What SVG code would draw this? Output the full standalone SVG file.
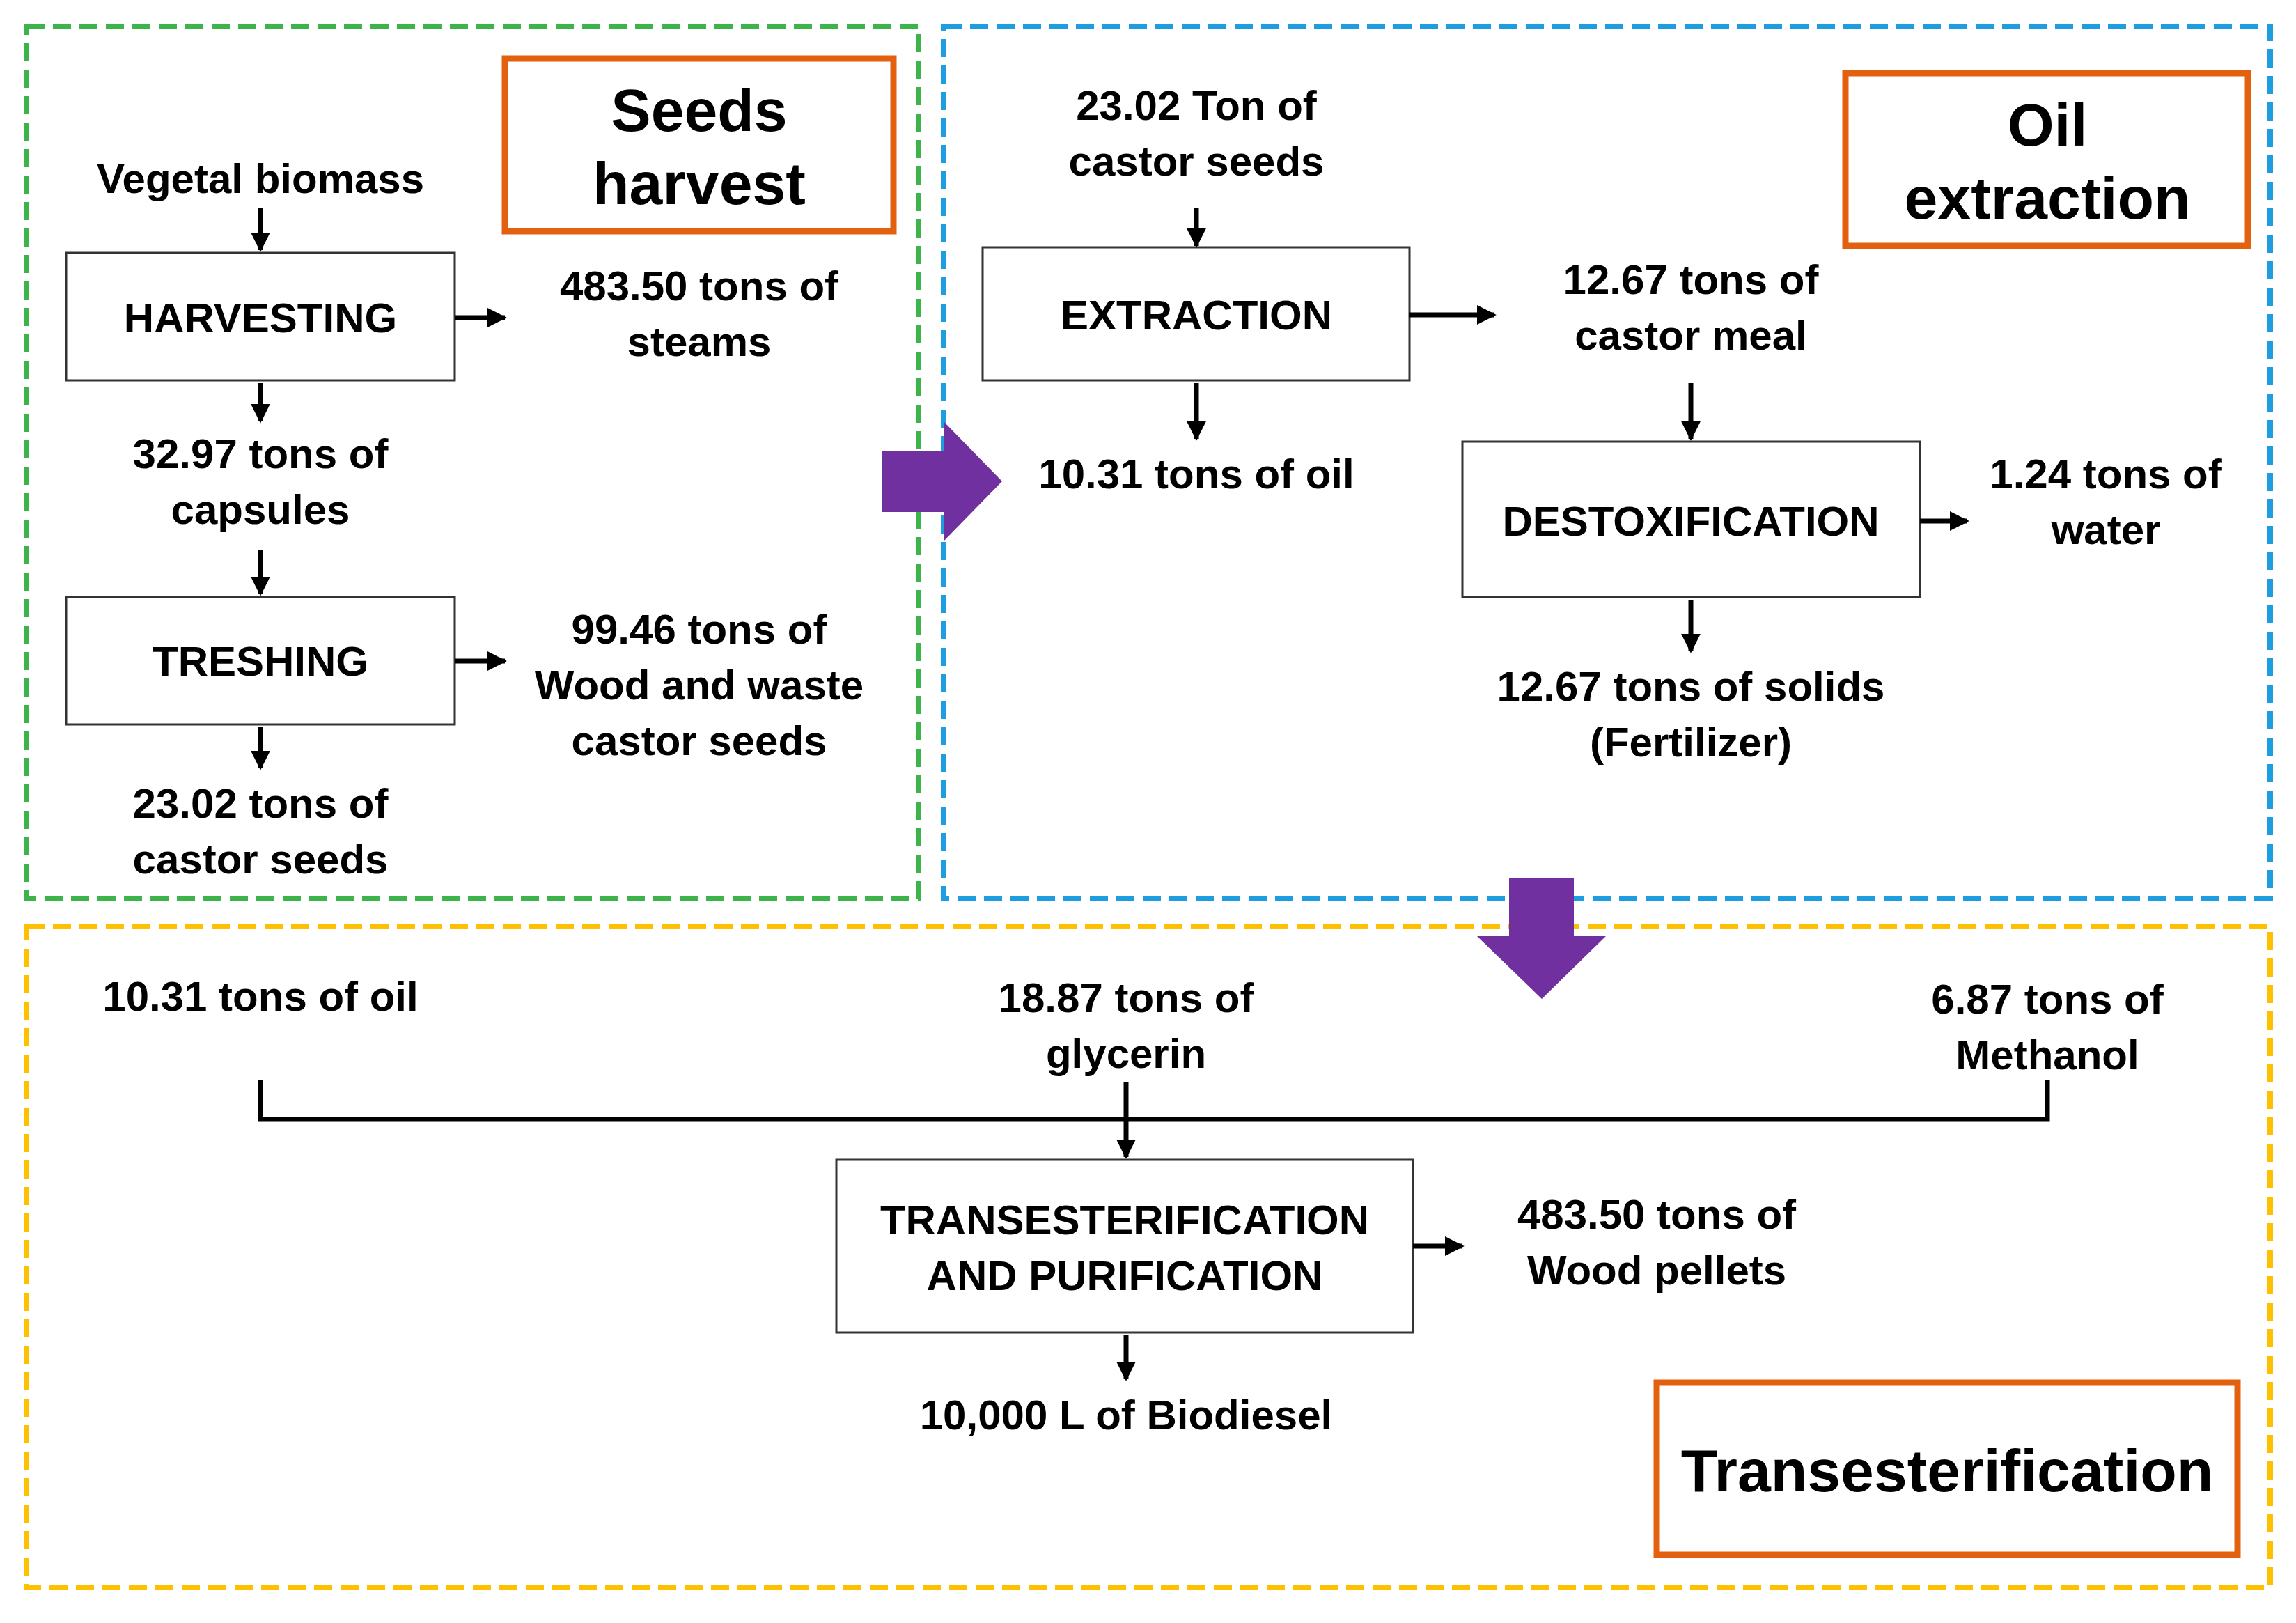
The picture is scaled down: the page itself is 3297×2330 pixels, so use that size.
<svg xmlns="http://www.w3.org/2000/svg" width="3297" height="2330" viewBox="0 0 3297 2330">
<style>
.t{font-family:"Liberation Sans",Arial,sans-serif;font-weight:bold;font-size:60px;text-anchor:middle;dominant-baseline:central;fill:#000}
.h{font-size:86px}
.box{fill:#fff;stroke:#333;stroke-width:3}
.ob{fill:#fff;stroke:#e3600f;stroke-width:9}
.c{stroke:#000;stroke-width:7;fill:none}
.a{stroke:#000;stroke-width:7;fill:none;marker-end:url(#ah)}
.d{fill:none;stroke-width:8;stroke-dasharray:26 12}
</style>
<defs><marker id="ah" viewBox="0 0 10 10" refX="9" refY="5" markerWidth="4" markerHeight="4" orient="auto" markerUnits="strokeWidth"><path d="M0,0L10,5L0,10z" fill="#000"/></marker></defs>
<rect width="3297" height="2330" fill="#fff"/>
<g id="regions">
<rect class="d" x="38" y="38" width="1281" height="1252" stroke="#3cb44a"/>
<rect class="d" x="1355" y="38" width="1905" height="1252" stroke="#1e9ee0"/>
<rect class="d" x="38" y="1330" width="3222" height="949" stroke="#ffc000"/>
</g>
<g id="title-seeds"><rect class="ob" x="725" y="84" width="558" height="248"/><text class="t h" x="1004" y="158">Seeds</text><text class="t h" x="1004" y="263">harvest</text></g>
<g id="title-oil"><rect class="ob" x="2650" y="105" width="578" height="248"/><text class="t h" x="2940" y="179">Oil</text><text class="t h" x="2940" y="284">extraction</text></g>
<g id="title-trans"><rect class="ob" x="2379" y="1985" width="834" height="247"/><text class="t h" x="2796" y="2111">Transesterification</text></g>
<g id="vegetal"><text class="t" x="374" y="256">Vegetal biomass</text></g>
<g id="harvesting"><rect class="box" x="95" y="363" width="558" height="183"/><text class="t" x="374" y="456">HARVESTING</text></g>
<g id="steams"><text class="t" x="1004" y="410">483.50 tons of</text><text class="t" x="1004" y="490">steams</text></g>
<g id="capsules"><text class="t" x="374" y="651">32.97 tons of</text><text class="t" x="374" y="731">capsules</text></g>
<g id="treshing"><rect class="box" x="95" y="857" width="558" height="183"/><text class="t" x="374" y="949">TRESHING</text></g>
<g id="wood"><text class="t" x="1004" y="903">99.46 tons of</text><text class="t" x="1004" y="983">Wood and waste</text><text class="t" x="1004" y="1063">castor seeds</text></g>
<g id="seeds1"><text class="t" x="374" y="1153">23.02 tons of</text><text class="t" x="374" y="1233">castor seeds</text></g>
<g id="seeds2"><text class="t" x="1718" y="151">23.02 Ton of</text><text class="t" x="1718" y="231">castor seeds</text></g>
<g id="extraction"><rect class="box" x="1411" y="355" width="613" height="191"/><text class="t" x="1718" y="452">EXTRACTION</text></g>
<g id="meal"><text class="t" x="2428" y="401">12.67 tons of</text><text class="t" x="2428" y="481">castor meal</text></g>
<g id="oil1"><text class="t" x="1718" y="680">10.31 tons of oil</text></g>
<g id="destox"><rect class="box" x="2100" y="634" width="657" height="223"/><text class="t" x="2428" y="748">DESTOXIFICATION</text></g>
<g id="water"><text class="t" x="3024" y="680">1.24 tons of</text><text class="t" x="3024" y="760">water</text></g>
<g id="solids"><text class="t" x="2428" y="985">12.67 tons of solids</text><text class="t" x="2428" y="1065">(Fertilizer)</text></g>
<g id="oil2"><text class="t" x="374" y="1430">10.31 tons of oil</text></g>
<g id="glycerin"><text class="t" x="1617" y="1432">18.87 tons of</text><text class="t" x="1617" y="1512">glycerin</text></g>
<g id="methanol"><text class="t" x="2940" y="1434">6.87 tons of</text><text class="t" x="2940" y="1514">Methanol</text></g>
<g id="trans"><rect class="box" x="1201" y="1665" width="828" height="248"/><text class="t" x="1615" y="1751">TRANSESTERIFICATION</text><text class="t" x="1615" y="1831">AND PURIFICATION</text></g>
<g id="pellets"><text class="t" x="2379" y="1743">483.50 tons of</text><text class="t" x="2379" y="1823">Wood pellets</text></g>
<g id="biodiesel"><text class="t" x="1617" y="2031">10,000 L of Biodiesel</text></g>
<g id="connectors">
<line class="a" x1="374" y1="298" x2="374" y2="359"/>
<line class="a" x1="653" y1="456" x2="725" y2="456"/>
<line class="a" x1="374" y1="550" x2="374" y2="605"/>
<line class="a" x1="374" y1="790" x2="374" y2="853"/>
<line class="a" x1="653" y1="949" x2="725" y2="949"/>
<line class="a" x1="374" y1="1044" x2="374" y2="1103"/>
<line class="a" x1="1718" y1="298" x2="1718" y2="353"/>
<line class="a" x1="2024" y1="452" x2="2146" y2="452"/>
<line class="a" x1="1718" y1="550" x2="1718" y2="630"/>
<line class="a" x1="2428" y1="550" x2="2428" y2="630"/>
<line class="a" x1="2757" y1="748" x2="2825" y2="748"/>
<line class="a" x1="2428" y1="861" x2="2428" y2="935"/>
<path class="c" d="M374,1550V1607H2940V1550"/>
<line class="a" x1="1617" y1="1554" x2="1617" y2="1661"/>
<line class="a" x1="2029" y1="1789" x2="2100" y2="1789"/>
<line class="a" x1="1617" y1="1917" x2="1617" y2="1980"/>
<path d="M1266,647H1355V605L1439,691L1355,777V735H1266z" fill="#7030a0"/>
<path d="M2167,1260H2260V1344H2306L2214,1434L2121,1344H2167z" fill="#7030a0"/>
</g>
</svg>
